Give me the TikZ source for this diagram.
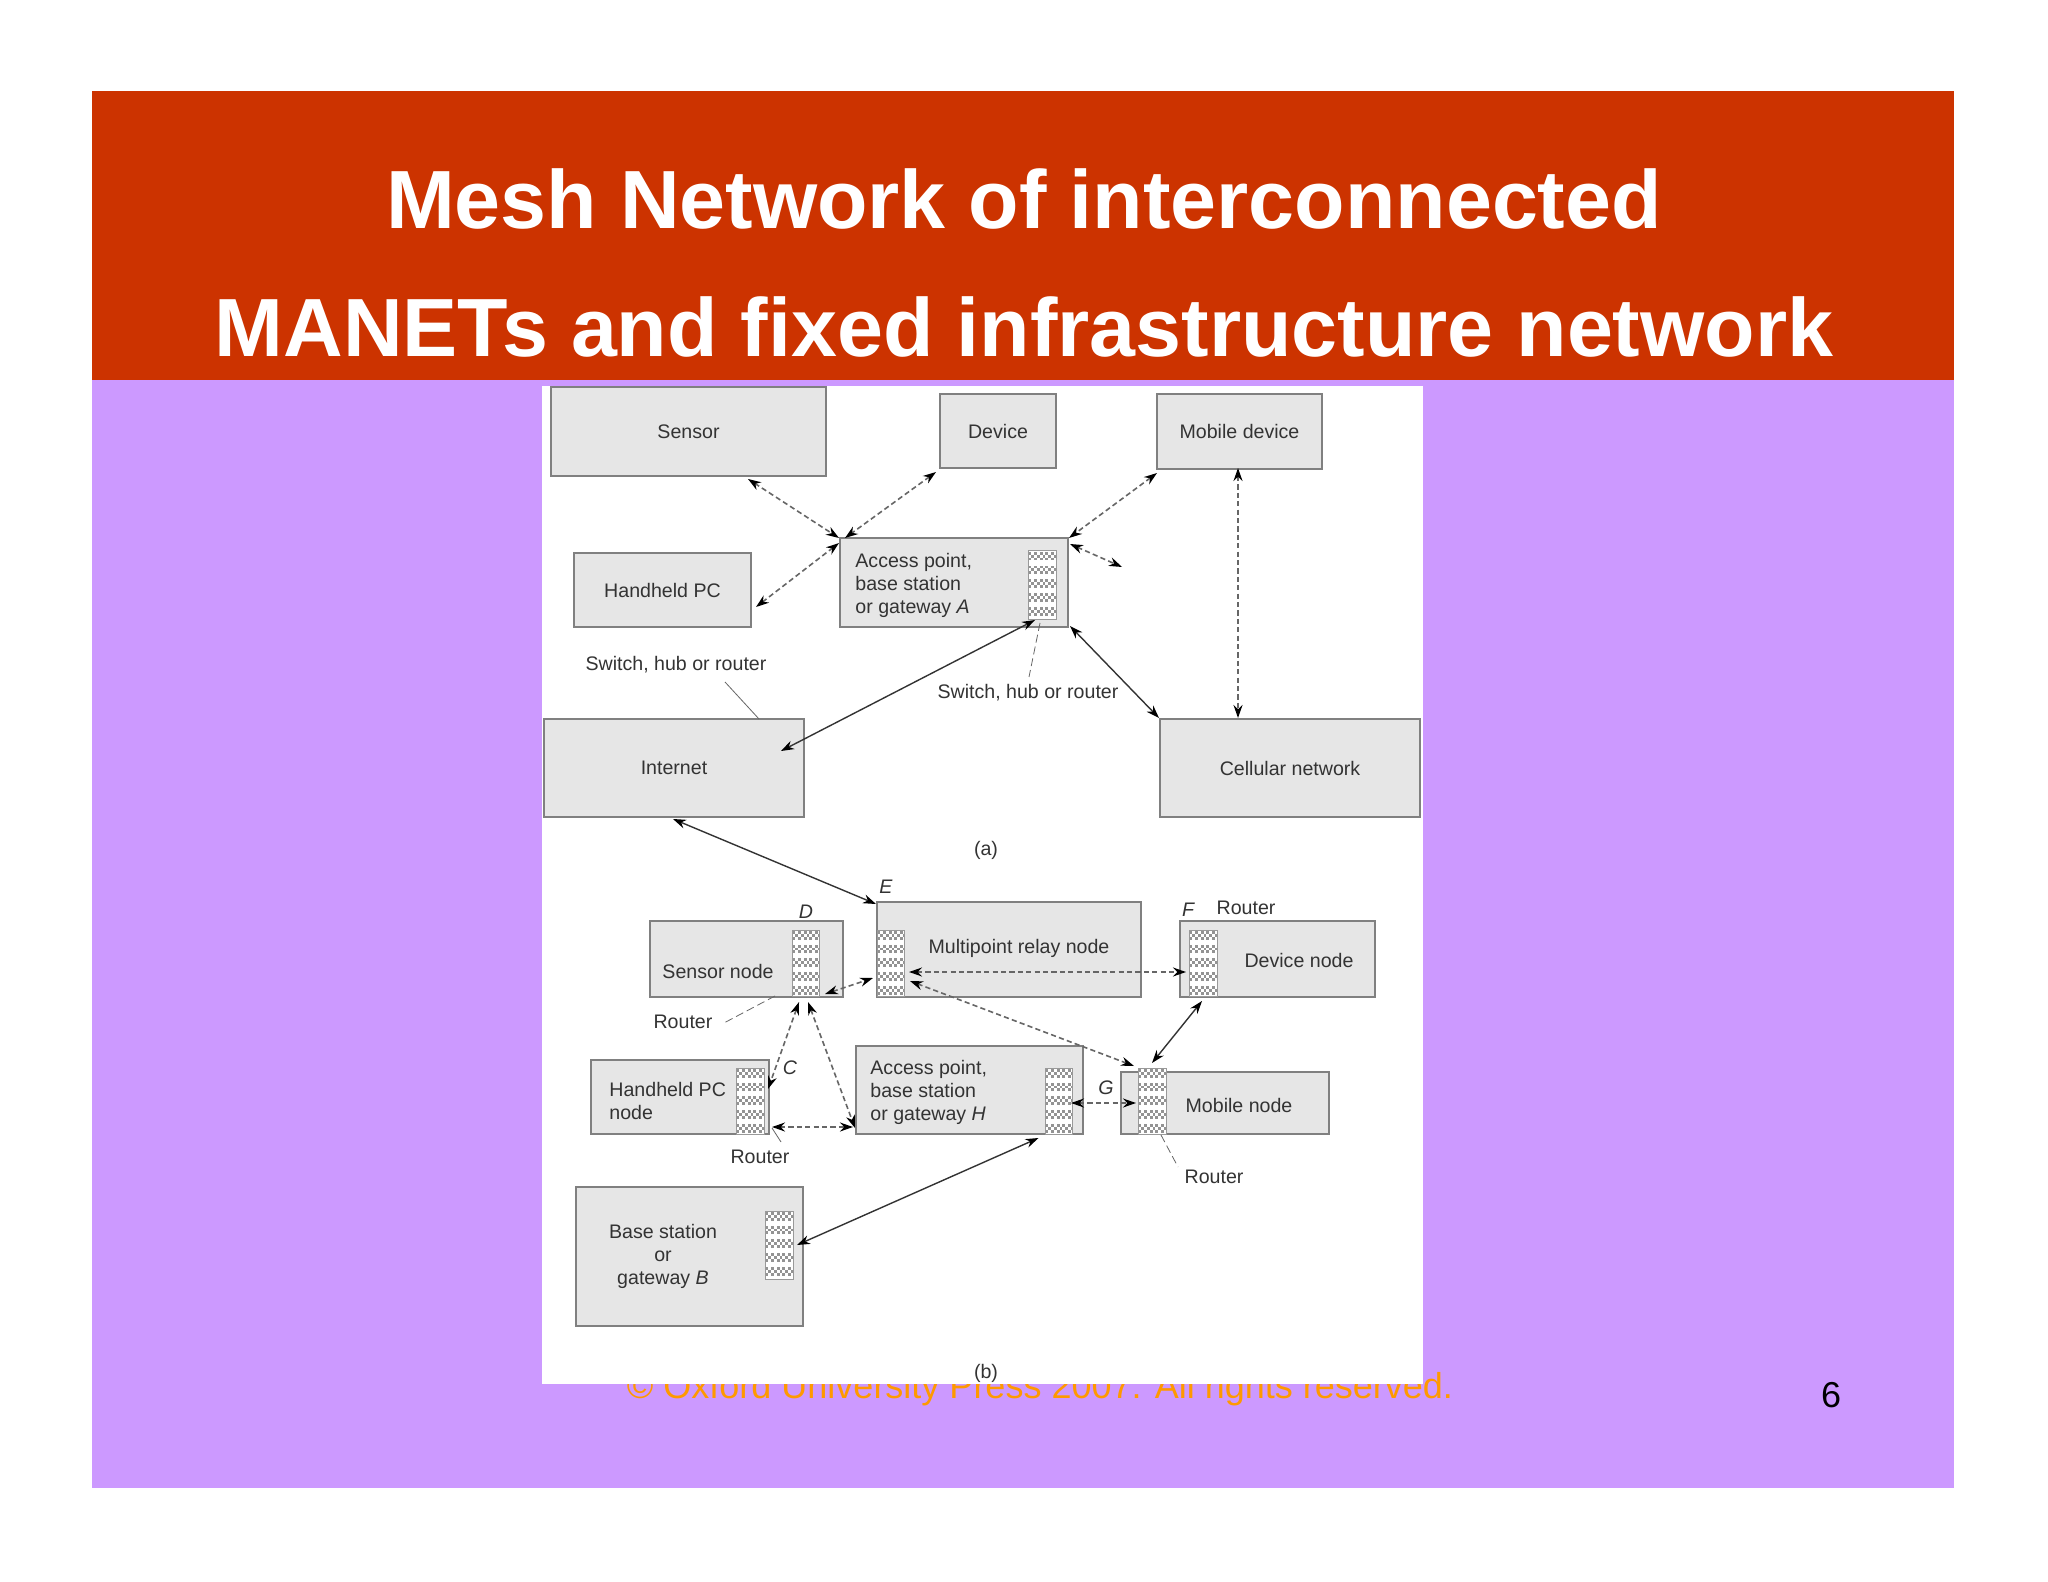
\documentclass[tikz,border=0pt]{standalone}
\usepackage{fontspec}
\setmainfont{Liberation Sans}
\usetikzlibrary{arrows.meta,fit,positioning}
\definecolor{slidered}{HTML}{CC3300}
\definecolor{slidepurple}{HTML}{CC99FF}
\definecolor{copyorange}{HTML}{FF9900}
\definecolor{boxfill}{HTML}{E6E6E6}
\definecolor{boxedge}{HTML}{808080}
\definecolor{inkgray}{HTML}{333333}
\definecolor{dashgray}{HTML}{666666}
\tikzset{
 box/.style={draw=boxedge,fill=boxfill,line width=1pt,inner sep=0pt,outer sep=0pt},
 hatchbar/.style={draw=boxedge!80,fill=white,line width=.5pt,inner sep=0pt,outer sep=0pt,
   path picture={
     \foreach \b in {0,...,4}{
       \foreach \r in {0,1,2}{
         \foreach \c in {0,...,4}{
           \pgfmathtruncatemacro{\xc}{\c*2+mod(\r,2)}
           \fill[gray!85] ([xshift=\xc*1.45pt,yshift=-\b*6.9pt-\r*1.45pt-0.4pt]path picture bounding box.north west) rectangle ++(1.45pt,-1.45pt);
         }
       }
     }
   }},
 lab/.style={text=inkgray,inner sep=0pt,align=center,font=\fontsize{9.8}{11.5}\selectfont},
 labl/.style={lab,align=left,anchor=west},
 ital/.style={lab,font=\fontsize{9.8}{11.5}\selectfont\itshape},
 link/.style={draw=inkgray,line width=.7pt,{Stealth[length=6.5pt,width=4.5pt,color=black]}-{Stealth[length=6.5pt,width=4.5pt,color=black]}},
 dlink/.style={link,draw=dashgray,line width=.8pt,dash pattern=on 2.6pt off 1.6pt},
 lead/.style={draw=dashgray,line width=.4pt},
 dlead/.style={lead,dash pattern=on 4pt off 2pt},
 title/.style={text=white,inner sep=0pt,font=\fontsize{41.3}{48}\selectfont\bfseries}
}
\begin{document}
\begin{tikzpicture}[x=0.5pt,y=-0.5pt]
\useasboundingbox (0,0) rectangle (2048,1582);
\fill[white] (0,0) rectangle (2048,1582);
\fill[slidepurple] (92,380) rectangle (1954,1488);
\fill[slidered] (92,91) rectangle (1954,380);
\node[title] (t1) at (1024,199) {Mesh Network of interconnected};
\node[title] (t2) at (1024,327) {MANETs and fixed infrastructure network};
\node[text=copyorange,inner sep=0pt,font=\fontsize{18}{22}\selectfont] (copy) at (1040,1389) {© Oxford University Press 2007. All rights reserved.};
\node[text=black,inner sep=0pt,font=\fontsize{18}{22}\selectfont] (pageno) at (1831,1395) {6};
\fill[white] (542,386) rectangle (1423,1384);
% part a boxes
\node[box,fit={(551,387)(826,476)},label={[lab]center:Sensor}] (sensor) {};
\node[box,fit={(940,394)(1056,468)},label={[lab]center:Device}] (device) {};
\node[box,fit={(1157,394)(1322,469)},label={[lab]center:Mobile device}] (mobile) {};
\node[box,fit={(840,538)(1068,627)}] (apa) {};
\node[box,fit={(574,553)(751,627)},label={[lab]center:Handheld PC}] (hand) {};
\node[box,fit={(544,719)(804,817)},label={[lab]center:Internet}] (inet) {};
\node[box,fit={(1160,719)(1420,817)},label={[lab]center:Cellular network}] (cell) {};
\node[hatchbar,fit={(1028,551)(1056,619)}] (hbA) {};
\node[labl] (apat) at (855,585) {Access point,\\base station\\or gateway \textit{A}};
\node[lab] (sw1) at (676,665) {Switch, hub or router};
\node[lab] (sw2) at (1028,693) {Switch, hub or router};
\node[lab] (capa) at (986,850) {(a)};
% part b boxes
\node[box,fit={(877,902)(1141,997)}] (relay) {};
\node[box,fit={(650,921)(843,997)}] (snode) {};
\node[box,fit={(1180,921)(1375,997)}] (dnode) {};
\node[box,fit={(591,1060)(769,1134)}] (hnode) {};
\node[box,fit={(856,1046)(1083,1134)}] (aph) {};
\node[box,fit={(1121,1072)(1329,1134)}] (mnode) {};
\node[box,fit={(576,1187)(803,1326)}] (base) {};
\node[hatchbar,fit={(792,930)(819,996)}] (hbD) {};
\node[hatchbar,fit={(877,930)(904,996)}] (hbE) {};
\node[hatchbar,fit={(1189,930)(1217,996)}] (hbF) {};
\node[hatchbar,fit={(736,1068)(764,1134)}] (hbC) {};
\node[hatchbar,fit={(1045,1068)(1072,1134)}] (hbH) {};
\node[hatchbar,fit={(1138,1068)(1166,1134)}] (hbG) {};
\node[hatchbar,fit={(765,1211)(793,1279)}] (hbB) {};
\node[lab] (relayt) at (1019,948) {Multipoint relay node};
\node[lab] (snodet) at (718,971) {Sensor node};
\node[lab] (dnodet) at (1299,960) {Device node};
\node[labl] (hnodet) at (609,1101) {Handheld PC\\node};
\node[labl] (apht) at (870,1092) {Access point,\\base station\\or gateway \textit{H}};
\node[lab] (mnodet) at (1239,1105) {Mobile node};
\node[lab] (baset) at (663,1256) {Base station\\or\\gateway \textit{B}};
\node[ital] (lD) at (806,912) {D};
\node[ital] (lE) at (886,887) {E};
\node[ital] (lF) at (1188,910) {F};
\node[ital] (lC) at (790,1068) {C};
\node[ital] (lG) at (1106,1088) {G};
\node[lab] (r1) at (1246,908) {Router};
\node[lab] (r2) at (683,1022) {Router};
\node[lab] (r3) at (760,1157) {Router};
\node[lab] (r4) at (1214,1177) {Router};
\node[lab] (capb) at (986,1373) {(b)};
% connectors part a
\draw[dlink] ([shift={(197,3)}]sensor.south west) -- ([shift={(-1,0)}]apa.north west);
\draw[dlink] ([shift={(-4,4)}]device.south west) -- ([shift={(5,0)}]apa.north west);
\draw[dlink] ([shift={(5,-20)}]hand.south east) -- ([shift={(-1,5)}]apa.north west);
\draw[dlink] ([shift={(0,4)}]mobile.south west) -- ([shift={(1,0)}]apa.north east);
\coordinate (freeA) at (1122,567);
\draw[dlink] ([shift={(2,6)}]apa.north east) -- (freeA);
\draw[dlink] ([shift={(78,-251)}]cell.north west) -- ([shift={(78,-1)}]cell.north west);
\draw[link] ([shift={(-7,1)}]hbA.south) -- ([shift={(-23,-66)}]inet.south east);
\draw[link] ([shift={(2,-1)}]apa.south east) -- ([shift={(-1,-1)}]cell.north west);
\coordinate (swA) at (1029,677);
\coordinate (swB) at (725,682);
\draw[dlead] ([shift={(-2,4)}]hbA.south) -- (swA);
\draw[lead] ([shift={(215,0)}]inet.north west) -- (swB);
\draw[link] ([shift={(129,2)}]inet.south west) -- ([shift={(-1,2)}]relay.north west);
% connectors part b
\draw[dlink] ([shift={(-18,-3)}]snode.south east) -- ([shift={(-4,-19)}]relay.south west);
\draw[dlink] ([shift={(5,-24)}]hbE.south east) -- ([shift={(-3,42)}]hbF.north west);
\draw[dlink] ([shift={(6,-15)}]hbE.south east) -- ([shift={(-4,-2)}]hbG.north west);
\draw[link] ([shift={(13,5)}]hbF.south west) -- ([shift={(14,-5)}]hbG.north west);
\draw[dlink] ([shift={(7,6)}]hbD.south west) -- ([shift={(4,21)}]hbC.north east);
\draw[dlink] ([shift={(16,6)}]hbD.south west) -- ([shift={(-1,-6)}]aph.south west);
\draw[dlink] ([shift={(3,-7)}]hnode.south east) -- ([shift={(-3,-7)}]aph.south west);
\draw[dlink] ([shift={(-1,-31)}]hbH.south east) -- ([shift={(-2,-31)}]hbG.south west);
\draw[link] ([shift={(-20,4)}]hbH.south) -- ([shift={(4,0)}]hbB.east);
\coordinate (rA) at (722,1024);
\coordinate (rB) at (781,1142);
\coordinate (rC) at (1178,1167);
\draw[dlead] ([shift={(-17,0)}]hbD.south west) -- (rA);
\draw[lead] ([shift={(3,-6)}]hnode.south east) -- (rB);
\draw[dlead] ([shift={(-5,1)}]hbG.south east) -- (rC);
\end{tikzpicture}
\end{document}
